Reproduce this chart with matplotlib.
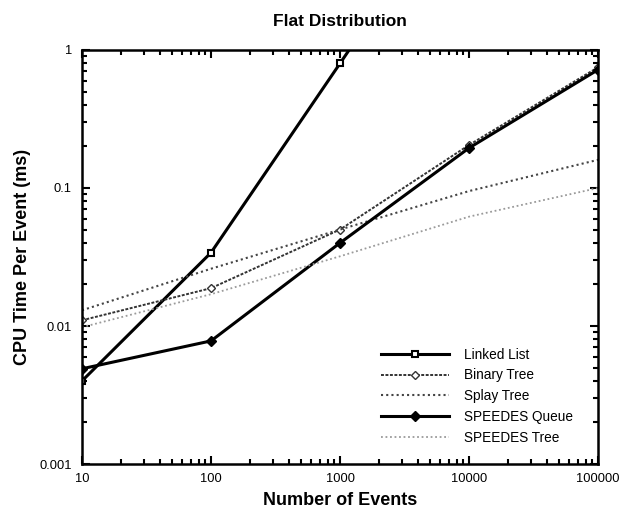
import numpy as np
import matplotlib.pyplot as plt
from matplotlib.ticker import LogLocator, FixedLocator, FixedFormatter, NullFormatter

plt.rcParams['font.family'] = ['Liberation Sans', 'DejaVu Sans']

# 数据
events = [10, 100, 1000, 10000, 100000]
linked_list = [0.0040, 0.034, 0.80, 19.0]           # 第四点超出上界被裁剪
binary_tree = [0.0110, 0.0188, 0.050, 0.205, 0.75]
splay_tree = [0.0130, 0.026, 0.050, 0.095, 0.16]
speedes_queue = [0.0049, 0.0078, 0.040, 0.195, 0.72]
speedes_tree = [0.0098, 0.017, 0.032, 0.062, 0.10]

x_ticks = [10, 100, 1000, 10000, 100000]
x_labels = ['10', '100', '1000', '10000', '100000']
y_ticks = [0.001, 0.01, 0.1, 1]
y_labels = ['0.001', '0.01', '0.1', '1']

fig = plt.figure(figsize=(6.23, 5.18), dpi=100)
ax = fig.add_axes([0.1316, 0.1042, 0.8284, 0.7993])

ax.plot(events[:len(linked_list)], linked_list, color='black', lw=2.2,
        marker='s', ms=5, mfc='white', mec='black', mew=1.5, label='Linked List')
ax.plot(events, binary_tree, color='#333333', lw=1.4, ls=(0, (1.5, 0.8)),
        marker='D', ms=4, mfc='white', mec='#333333', mew=1, label='Binary Tree')
ax.plot(events, splay_tree, color='#444444', lw=1.5, ls=(0, (1, 1.5)),
        label='Splay Tree')
ax.plot(events, speedes_queue, color='black', lw=2.2,
        marker='D', ms=5, mfc='black', mec='black', label='SPEEDES Queue')
ax.plot(events, speedes_tree, color='#9a9a9a', lw=1.3, ls=(0, (1, 1.5)),
        label='SPEEDES Tree')

ax.set_xscale('log')
ax.set_yscale('log')
ax.set_xlim(10, 100000)
ax.set_ylim(0.001, 1)

ax.xaxis.set_major_locator(FixedLocator(x_ticks))
ax.xaxis.set_major_formatter(FixedFormatter(x_labels))
ax.yaxis.set_major_locator(FixedLocator(y_ticks))
ax.yaxis.set_major_formatter(FixedFormatter(y_labels))
ax.xaxis.set_minor_locator(LogLocator(base=10, subs=np.arange(2, 10)))
ax.yaxis.set_minor_locator(LogLocator(base=10, subs=np.arange(2, 10)))
ax.xaxis.set_minor_formatter(NullFormatter())
ax.yaxis.set_minor_formatter(NullFormatter())

ax.tick_params(which='both', direction='in', top=True, right=True, width=1.5)
ax.tick_params(which='major', length=6, labelsize=9.3)
ax.tick_params(axis='x', which='major', pad=6.5)
ax.tick_params(axis='y', which='major', pad=7.2)
ax.tick_params(which='minor', length=3.5)
for s in ax.spines.values():
    s.set_linewidth(1.8)

ax.set_title('Flat Distribution', fontsize=12.5, fontweight='bold', pad=17)
ax.set_xlabel('Number of Events', fontsize=13, fontweight='bold', labelpad=5)
ax.set_ylabel('CPU Time Per Event (ms)', fontsize=13, fontweight='bold', labelpad=6)

ax.legend(loc='lower left', bbox_to_anchor=(0.568, 0.034), borderaxespad=0,
          frameon=False, fontsize=9.8, handlelength=5, labelspacing=0.49,
          handletextpad=1.1)

plt.savefig('out.png', dpi=100)
